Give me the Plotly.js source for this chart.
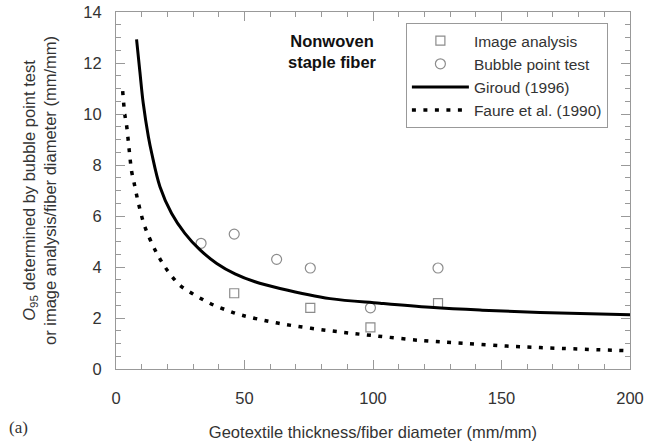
<!DOCTYPE html>
<html>
<head>
<meta charset="utf-8">
<script src="https://cdn.plot.ly/plotly-3.0.1.min.js"></script>
<style>html,body{margin:0;padding:0;background:#fff;}#chart{width:663px;height:445px;}</style>
</head>
<body>
<div id="chart"></div>
<script>
// Data
const imageX = [46, 75.6, 99, 125.3];
const imageY = [2.97, 2.40, 1.63, 2.58];

const bubbleX = [33.1, 46, 62.5, 75.6, 99, 125.3];
const bubbleY = [4.93, 5.29, 4.30, 3.96, 2.40, 3.96];

const giroudX = [8, 9.3, 10.6, 12.6, 13.9, 17.1, 21.6, 26.8, 32.7, 39.2, 46.3, 54.1, 63.8, 83.3, 102.7, 122.2, 141.6, 165, 200];
const giroudY = [12.93, 11.65, 10.42, 9.11, 8.46, 7.15, 6.11, 5.32, 4.67, 4.14, 3.73, 3.42, 3.16, 2.76, 2.58, 2.42, 2.31, 2.22, 2.13];

const faureX = [2.6, 3.4, 4.1, 5.1, 6.1, 7.0, 8.9, 11.3, 15.2, 18.0, 21.0, 24.9, 29.5, 34.0, 38.1, 43.0, 47.2, 52.1, 65.1, 83.3, 100.1, 119.6, 135.1, 152, 165, 198];
const faureY = [10.90, 10.0, 9.57, 8.62, 7.74, 7.32, 6.43, 5.56, 4.67, 4.17, 3.73, 3.28, 2.97, 2.71, 2.50, 2.31, 2.16, 2.03, 1.76, 1.50, 1.31, 1.11, 1.01, 0.90, 0.84, 0.72];

const seriesNames = ['Image analysis', 'Bubble point test', 'Giroud (1996)', 'Faure et al. (1990)'];

const FONT = 'Liberation Sans, Arial, Helvetica, sans-serif';
const GREY = '#8c8c8c';

const traces = [
  {x: imageX, y: imageY, name: seriesNames[0], mode: 'markers', type: 'scatter',
   marker: {symbol: 'square-open', size: 9, color: GREY, line: {width: 1.2, color: GREY}}},
  {x: bubbleX, y: bubbleY, name: seriesNames[1], mode: 'markers', type: 'scatter',
   marker: {symbol: 'circle-open', size: 10, color: GREY, line: {width: 1.2, color: GREY}}},
  {x: giroudX, y: giroudY, name: seriesNames[2], mode: 'lines', type: 'scatter',
   line: {color: '#000', width: 3, shape: 'spline', smoothing: 1}},
  {x: faureX, y: faureY, name: seriesNames[3], mode: 'lines', type: 'scatter',
   line: {color: '#000', width: 3.5, dash: '4px,7.5px', shape: 'spline', smoothing: 1}}
];

const axisCommon = {
  showgrid: false, zeroline: false, showline: true, linecolor: '#999', linewidth: 1,
  mirror: 'allticks', ticks: 'inside', ticklen: 9, tickcolor: '#999', tickwidth: 1,
  tickfont: {family: FONT, size: 16.5, color: '#333'}
};

const layout = {
  width: 663, height: 445,
  margin: {l: 116, r: 33, t: 12, b: 76},
  paper_bgcolor: '#fff', plot_bgcolor: '#fff',
  font: {family: FONT, color: '#333'},
  showlegend: true,
  legend: {x: 0.564, y: 0.969, xanchor: 'left', yanchor: 'top',
           bordercolor: '#999', borderwidth: 1, bgcolor: '#fff',
           font: {family: FONT, size: 15.5, color: '#333'}, itemwidth: 57, tracegroupgap: 0},
  xaxis: Object.assign({}, axisCommon, {
    range: [0, 200], dtick: 50, tick0: 0,
    minor: {dtick: 10, ticklen: 5, tickcolor: '#999', ticks: 'inside'},
    ticklabelstandoff: 14,
    title: {text: 'Geotextile thickness/fiber diameter (mm/mm)', font: {family: FONT, size: 16.5, color: '#333'}, standoff: 20}
  }),
  yaxis: Object.assign({}, axisCommon, {
    range: [0, 14], dtick: 2, tick0: 0,
    minor: {dtick: 0.5, ticklen: 5, tickcolor: '#999', ticks: 'inside'},
    ticklabelstandoff: 10,
    title: {text: '<i>O</i><sub>95</sub> determined by bubble point test<br>or image analysis/fiber diameter (mm/mm)', font: {family: FONT, size: 16.5, color: '#333'}, standoff: 22}
  }),
  annotations: [
    {text: '<b>Nonwoven<br>staple fiber</b>', xref: 'paper', yref: 'paper', x: 0.422, y: 0.889,
     xanchor: 'center', yanchor: 'middle', showarrow: false, font: {family: FONT, size: 16.5, color: '#111'}},
    {text: '(a)', xref: 'paper', yref: 'paper', x: -0.19, y: -0.165, xanchor: 'center', yanchor: 'middle',
     showarrow: false, font: {family: 'Liberation Serif, Times New Roman, serif', size: 17, color: '#333'}}
  ]
};

Plotly.newPlot('chart', traces, layout, {staticPlot: true, displayModeBar: false});
</script>
</body>
</html>
